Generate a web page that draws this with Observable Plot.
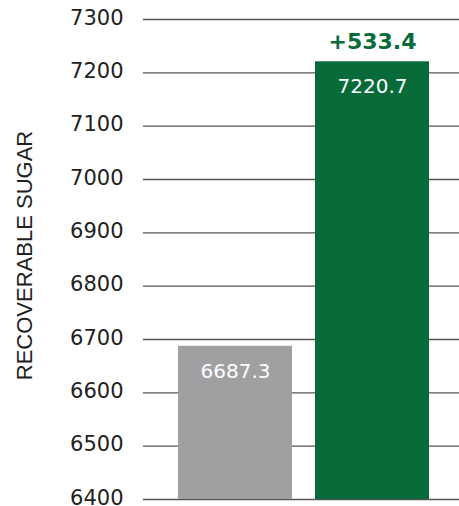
<!DOCTYPE html>
<html>
<head>
<meta charset="utf-8">
<script src="https://cdn.jsdelivr.net/npm/d3@7"></script>
<script src="https://cdn.jsdelivr.net/npm/@observablehq/plot@0.6"></script>
<style>
  html, body { margin: 0; padding: 0; background: #fff; }
</style>
</head>
<body>
<div id="chart"></div>
<script>
const categories = ["Control", "Treatment"];
const values = [6687.3, 7220.7];
const increase = 533.4;
const yTicks = [6400, 6500, 6600, 6700, 6800, 6900, 7000, 7100, 7200, 7300];
const yLabel = "RECOVERABLE SUGAR";
const colors = ["#a0a0a3", "#066b38"];

const data = categories.map((c, i) => ({category: c, value: values[i], color: colors[i]}));
const yDomain = [yTicks[0], yTicks[yTicks.length - 1]];

const chart = Plot.plot({
  width: 459,
  height: 506,
  marginLeft: 143,
  marginRight: 0,
  marginTop: 19,
  marginBottom: 7,
  style: {fontFamily: "DejaVu Sans", background: "#fff"},
  x: {domain: categories, paddingInner: 0.168, paddingOuter: 0.237, align: 0.54, axis: null},
  y: {domain: yDomain, ticks: yTicks},
  marks: [
    Plot.ruleY(yTicks, {stroke: "#555", strokeWidth: 1.3}),
    Plot.barY(data, {x: "category", y1: yDomain[0], y2: "value", fill: "color"}),
    Plot.text(data, {x: "category", y: "value", text: d => d.value.toFixed(1), dy: 25, fill: "white", fontSize: 20}),
    Plot.text([increase], {x: () => categories[1], y: () => values[1], text: d => "+" + d.toFixed(1), dy: -20, fill: colors[1], fontSize: 22, fontWeight: "bold"}),
    Plot.axisY({ticks: yTicks, tickSize: 0, tickPadding: 20, label: null, fontSize: 21, fill: "#222", dy: -1.5, tickFormat: d => String(d)}),
    Plot.text([yLabel], {frameAnchor: "left", rotate: -90, dx: -118.5, dy: -4, textAnchor: "middle", lineAnchor: "middle", fontSize: 22, fontFamily: "Liberation Sans", fill: "#222"})
  ]
});
document.getElementById("chart").appendChild(chart);
</script>
</body>
</html>
